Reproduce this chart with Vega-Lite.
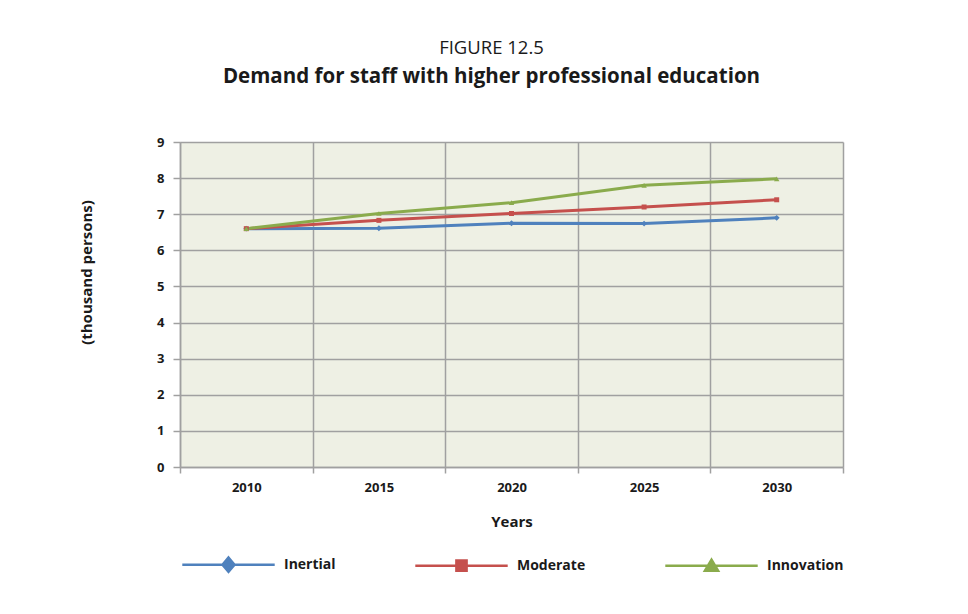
{
  "$schema": "https://vega.github.io/schema/vega-lite/v6.json",
  "width": 663,
  "height": 325,
  "autosize": {"type": "none"},
  "padding": {"left": 180, "top": 142, "right": 125, "bottom": 147},
  "background": "white",
  "title": {
    "text": "FIGURE 12.5",
    "subtitle": "Demand for staff with higher professional education",
    "anchor": "middle",
    "dx": -20,
    "offset": 49,
    "font": "Open Sans",
    "fontSize": 18.5,
    "fontWeight": "normal",
    "color": "#1a1a1a",
    "subtitleFont": "Open Sans",
    "subtitleFontSize": 20.5,
    "subtitleFontWeight": "bold",
    "subtitleColor": "#1a1a1a",
    "subtitlePadding": 9
  },
  "config": {
    "view": {"fill": "#eef0e4", "stroke": null},
    "font": "Open Sans"
  },
  "data": {
    "values": [
      {"year": "2010", "series": "Inertial", "value": 6.6},
      {"year": "2015", "series": "Inertial", "value": 6.61},
      {"year": "2020", "series": "Inertial", "value": 6.75},
      {"year": "2025", "series": "Inertial", "value": 6.74},
      {"year": "2030", "series": "Inertial", "value": 6.9},
      {"year": "2010", "series": "Moderate", "value": 6.6},
      {"year": "2015", "series": "Moderate", "value": 6.83},
      {"year": "2020", "series": "Moderate", "value": 7.02},
      {"year": "2025", "series": "Moderate", "value": 7.2},
      {"year": "2030", "series": "Moderate", "value": 7.4},
      {"year": "2010", "series": "Innovation", "value": 6.6},
      {"year": "2015", "series": "Innovation", "value": 7.02},
      {"year": "2020", "series": "Innovation", "value": 7.32},
      {"year": "2025", "series": "Innovation", "value": 7.8},
      {"year": "2030", "series": "Innovation", "value": 7.98}
    ]
  },
  "encoding": {
    "x": {
      "field": "year",
      "type": "ordinal",
      "scale": {"type": "band", "paddingInner": 0, "paddingOuter": 0},
      "axis": {
        "title": "Years",
        "titleFontSize": 15,
        "titleFontWeight": "bold",
        "titleColor": "#1a1a1a",
        "titlePadding": 20,
        "labelAngle": 0,
        "labelFontSize": 13,
        "labelFontWeight": "bold",
        "labelColor": "#1a1a1a",
        "labelPadding": 8,
        "tickBand": "extent",
        "tickSize": 6,
        "tickColor": "#a0a0a0",
        "tickWidth": 1.5,
        "domainColor": "#a0a0a0",
        "domainWidth": 1.5,
        "grid": true,
        "gridColor": "#a0a0a0",
        "gridWidth": 1.5
      }
    },
    "y": {
      "field": "value",
      "type": "quantitative",
      "scale": {"domain": [0, 9]},
      "axis": {
        "title": "(thousand persons)",
        "titleFontSize": 15,
        "titleFontWeight": "bold",
        "titleColor": "#1a1a1a",
        "titleX": -86,
        "titleY": 130,
        "values": [0, 1, 2, 3, 4, 5, 6, 7, 8, 9],
        "labelFontSize": 13,
        "labelFontWeight": "bold",
        "labelColor": "#1a1a1a",
        "labelPadding": 9,
        "tickSize": 7,
        "tickColor": "#a0a0a0",
        "tickWidth": 1.5,
        "domainColor": "#a0a0a0",
        "domainWidth": 1.5,
        "gridColor": "#a0a0a0",
        "gridWidth": 1.5
      }
    },
    "color": {
      "field": "series",
      "type": "nominal",
      "scale": {
        "domain": ["Inertial", "Moderate", "Innovation"],
        "range": ["#4f81bd", "#c5504d", "#8aab4c"]
      }
    }
  },
  "layer": [
    {"mark": {"type": "line", "strokeWidth": 3}},
    {
      "transform": [{"filter": "datum.series === 'Inertial'"}],
      "mark": {"type": "point", "shape": "diamond", "filled": true, "size": 35, "opacity": 1}
    },
    {
      "transform": [{"filter": "datum.series === 'Moderate'"}],
      "mark": {"type": "point", "shape": "square", "filled": true, "size": 25, "opacity": 1}
    },
    {
      "transform": [{"filter": "datum.series === 'Innovation'"}],
      "mark": {"type": "point", "shape": "triangle-up", "filled": true, "size": 30, "opacity": 1}
    },
    {
      "mark": {"type": "point", "filled": true, "opacity": 0},
      "encoding": {
        "shape": {
          "field": "series",
          "type": "nominal",
          "scale": {
            "domain": ["Inertial", "Moderate", "Innovation"],
            "range": [
              "M-7.7,0H7.7M0,-1.2L1,0L0,1.2L-1,0Z",
              "M-7.7,0H7.7M-0.85,-0.85H0.85V0.85H-0.85Z",
              "M-7.7,0H7.7M0,-1L1.1,0.85H-1.1Z"
            ]
          },
          "legend": {
            "title": null,
            "orient": "none",
            "direction": "horizontal",
            "legendX": 41,
            "legendY": 415,
            "symbolSize": 144,
            "symbolOpacity": 1,
            "symbolStrokeWidth": 2.5,
            "labelOffset": 48,
            "columnPadding": 74,
            "labelFontSize": 14,
            "labelFontWeight": "bold",
            "labelColor": "#1a1a1a",
            "labelFont": "Open Sans",
            "encode": {
              "symbols": {
                "update": {
                  "stroke": {"scale": "color", "field": "value"},
                  "fill": {"scale": "color", "field": "value"},
                  "opacity": {"value": 1}
                }
              }
            }
          }
        }
      }
    }
  ]
}
